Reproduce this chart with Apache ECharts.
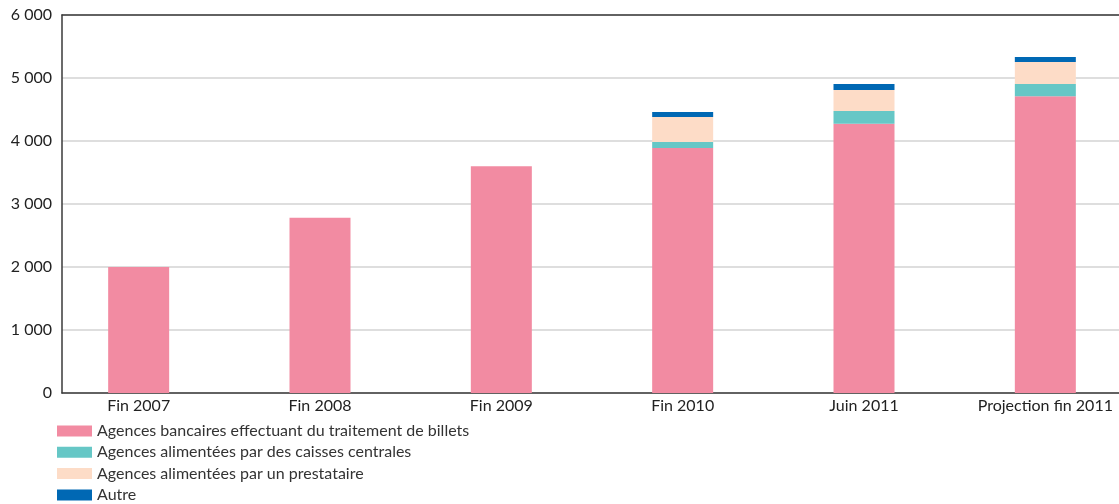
<!DOCTYPE html>
<html lang="fr">
<head>
    <meta charset="utf-8">
    <title>Agences</title>
    <script src="https://cdn.jsdelivr.net/npm/echarts@6/dist/echarts.min.js"></script>
    <style>
        html, body { margin: 0; padding: 0; background: #fff; }
        #main { width: 1119px; height: 504px; }
    </style>
</head>
<body>
    <div id="main"></div>
<script>
    // données
    var categories = ['Fin 2007', 'Fin 2008', 'Fin 2009', 'Fin 2010', 'Juin 2011', 'Projection fin 2011'];
    var bancaires = [2000, 2780, 3600, 3890, 4275, 4710];
    var caisses = [null, null, null, 95, 200, 195];
    var prestataire = [null, null, null, 395, 335, 350];
    var autre = [null, null, null, 80, 95, 80];
    var yTicks = [0, 1000, 2000, 3000, 4000, 5000, 6000];

    var font = 'Lato';
    var myChart = echarts.init(document.getElementById('main'));

    function fmt(v) {
        return String(v).replace(/\B(?=(\d{3})+(?!\d))/g, ' ');
    }

    function serie(name, data, color) {
        return {
            name: name,
            type: 'bar',
            stack: 'total',
            xAxisIndex: 2,
            yAxisIndex: 1,
            barWidth: 61,
            data: data,
            itemStyle: { color: color },
            emphasis: { disabled: true }
        };
    }

    var option = {
        animation: false,
        textStyle: { fontFamily: font },
        // grille 0 : cadre, axes et lignes de grille ; grille 1 : barres
        grid: [
            { left: 62, right: 0, top: 15, bottom: 111, outerBoundsMode: 'none' },
            { left: 48, width: 1088, top: 15, bottom: 111, outerBoundsMode: 'none' }
        ],
        legend: {
            orient: 'vertical',
            left: 57,
            top: 423,
            height: 120,
            padding: 0,
            itemWidth: 35,
            itemHeight: 11,
            itemGap: 5.3,
            icon: 'rect',
            selectedMode: false,
            textStyle: { fontFamily: font, fontSize: 16, color: '#333', lineHeight: 14 },
            data: [
                'Agences bancaires effectuant du traitement de billets',
                'Agences alimentées par des caisses centrales',
                'Agences alimentées par un prestataire',
                'Autre'
            ]
        },
        xAxis: [
            {
                type: 'category', gridIndex: 0, position: 'bottom', data: categories,
                axisLine: { lineStyle: { color: '#3a3a3a', width: 1.5 } },
                axisTick: { show: false }, axisLabel: { show: false }
            },
            {
                type: 'category', gridIndex: 0, position: 'top', data: categories,
                axisLine: { lineStyle: { color: '#3a3a3a', width: 1.5 } },
                axisTick: { show: false }, axisLabel: { show: false }
            },
            {
                type: 'category', gridIndex: 1, data: categories,
                axisLine: { show: false }, axisTick: { show: false },
                axisLabel: { interval: 0, margin: 5, fontFamily: font, fontSize: 16, color: '#222' }
            }
        ],
        yAxis: [
            {
                type: 'value', gridIndex: 0, min: yTicks[0], max: yTicks[yTicks.length - 1], interval: 1000,
                axisLine: { show: true, lineStyle: { color: '#3a3a3a', width: 1.5 } },
                axisTick: { show: false },
                splitLine: { lineStyle: { color: '#d3d3d3', width: 1.5 } },
                axisLabel: { margin: 10, fontFamily: font, fontSize: 16, color: '#222', formatter: fmt }
            },
            {
                type: 'value', gridIndex: 1, min: yTicks[0], max: yTicks[yTicks.length - 1], interval: 1000,
                show: false
            }
        ],
        series: [
            serie('Agences bancaires effectuant du traitement de billets', bancaires, '#f28ba2'),
            serie('Agences alimentées par des caisses centrales', caisses, '#66c7c6'),
            serie('Agences alimentées par un prestataire', prestataire, '#fddcc7'),
            serie('Autre', autre, '#0068b4')
        ]
    };
    myChart.setOption(option);
</script>
</body>
</html>
